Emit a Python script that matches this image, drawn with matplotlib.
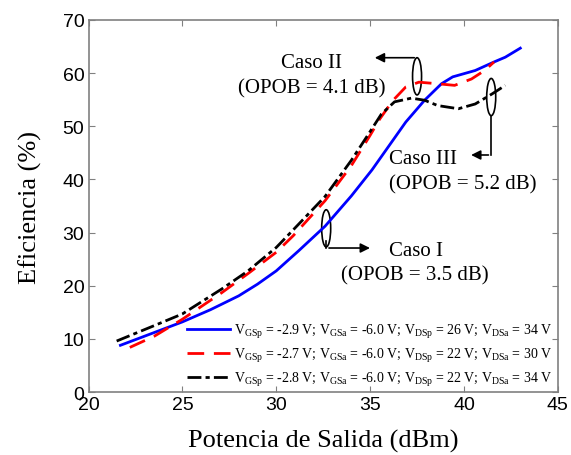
import matplotlib
matplotlib.use("Agg")
import matplotlib.pyplot as plt
from matplotlib.patches import Ellipse

plt.rcParams['font.family'] = ['Liberation Serif', 'DejaVu Serif']
plt.rcParams['mathtext.fontset'] = 'custom'
plt.rcParams['mathtext.rm'] = 'Liberation Serif'

# Caso I (blue)
x_blue = [21.7, 23.5, 25.0, 26.5, 28.0, 29.0, 30.0, 30.6, 31.2, 32.6, 34.0, 35.1,
          35.9, 36.9, 37.9, 38.8, 39.4, 40.6, 41.6, 42.2, 43.0]
y_blue = [8.8, 11.2, 13.2, 15.5, 18.1, 20.3, 22.8, 24.7, 26.6, 31.2, 36.9, 41.8,
          45.8, 50.8, 54.9, 58.0, 59.3, 60.5, 62.1, 63.0, 64.7]

# Caso II (red dashed)
x_red = [22.2, 23.5, 25.0, 27.1, 28.5, 30.0, 30.9, 32.6, 34.0, 35.0, 35.5, 36.2,
         36.9, 37.6, 38.6, 39.5, 40.4, 41.1, 41.6]
y_red = [8.4, 10.5, 13.7, 18.7, 22.3, 26.3, 29.4, 36.0, 42.6, 48.3, 51.3, 54.8,
         57.4, 58.3, 58.0, 57.7, 58.9, 60.5, 62.1]

# Caso III (black dash-dot)
x_black = [21.5, 23.5, 25.0, 27.1, 28.5, 30.0, 30.9, 32.6, 34.0, 35.0, 35.6, 36.3,
           37.2, 37.9, 38.6, 39.7, 40.6, 41.5, 42.2]
y_black = [9.6, 12.5, 14.7, 19.4, 22.8, 27.2, 30.5, 36.8, 43.6, 49.0, 52.3, 54.6,
           55.3, 54.9, 53.9, 53.3, 54.2, 56.1, 57.7]

labels = [
    r'$\mathrm{V_{GSp}}$ = -2.9 V; $\mathrm{V_{GSa}}$ = -6.0 V; $\mathrm{V_{DSp}}$ = 26 V; $\mathrm{V_{DSa}}$ = 34 V',
    r'$\mathrm{V_{GSp}}$ = -2.7 V; $\mathrm{V_{GSa}}$ = -6.0 V; $\mathrm{V_{DSp}}$ = 22 V; $\mathrm{V_{DSa}}$ = 30 V',
    r'$\mathrm{V_{GSp}}$ = -2.8 V; $\mathrm{V_{GSa}}$ = -6.0 V; $\mathrm{V_{DSp}}$ = 22 V; $\mathrm{V_{DSa}}$ = 34 V',
]

fig = plt.figure(figsize=(5.71, 4.56), dpi=100)
ax = fig.add_axes([0.155, 0.138, 0.822, 0.816])

ax.plot(x_blue, y_blue, color='#0000ff', lw=2.0, label=labels[0])
ax.plot(x_red, y_red, color='#ff0000', lw=2.0, dashes=(6, 3.5), label=labels[1])
ax.plot(x_black, y_black, color='black', lw=2.0, dashes=(5, 1.5, 1.5, 1.5), label=labels[2])

ax.set_xlim(20, 45)
ax.set_ylim(0, 70)
ax.set_xticks([20, 25, 30, 35, 40, 45])
ax.set_yticks([0, 10, 20, 30, 40, 50, 60, 70])
for lab in ax.get_xticklabels() + ax.get_yticklabels():
    lab.set_family(['Liberation Sans'])
    lab.set_fontsize(14)
ax.tick_params(direction='in', top=True, right=True, length=4, color='#808080', pad=3)
for s in ax.spines.values():
    s.set_color('#808080')
    s.set_linewidth(1.2)

ax.set_xlabel('Potencia de Salida (dBm)', fontsize=19, labelpad=11)
ax.set_ylabel('Eficiencia (%)', fontsize=19, labelpad=15)

# ellipses + arrows
ell_kw = dict(fill=False, edgecolor='black', lw=1.2)
ax.add_patch(Ellipse((32.66, 30.8), 0.48, 7.0, **ell_kw))
ax.add_patch(Ellipse((37.5, 59.4), 0.48, 7.0, **ell_kw))
ax.add_patch(Ellipse((41.45, 55.5), 0.48, 7.0, **ell_kw))

arr = dict(arrowstyle='-|>', color='black', lw=1.2, mutation_scale=14)
ax.plot([32.66, 32.66], [28.5, 27.1], color='black', lw=1.2)
ax.annotate('', xy=(35.14, 27.1), xytext=(32.66, 27.1), arrowprops=arr)
ax.annotate('', xy=(35.1, 62.9), xytext=(37.5, 62.9), arrowprops=arr)
ax.plot([41.45, 41.45], [52.0, 44.6], color='black', lw=1.2)
ax.annotate('', xy=(40.23, 44.6), xytext=(41.45, 44.6), arrowprops=arr)

fs = 15
ax.text(35.99, 26.55, 'Caso I', fontsize=fs, ha='left', va='center')
ax.text(33.43, 22.0, '(OPOB = 3.5 dB)', fontsize=fs, ha='left', va='center')
ax.text(31.87, 62.05, 'Caso II', fontsize=fs, ha='center', va='center')
ax.text(31.87, 57.15, '(OPOB = 4.1 dB)', fontsize=fs, ha='center', va='center')
ax.text(35.99, 43.9, 'Caso III', fontsize=fs, ha='left', va='center')
ax.text(35.99, 39.1, '(OPOB = 5.2 dB)', fontsize=fs, ha='left', va='center')

ax.legend(loc='lower right', frameon=False, fontsize=10, handlelength=3.1,
          handletextpad=0.3, labelspacing=0.45, borderaxespad=0.0,
          bbox_to_anchor=(1.0, -0.005))

fig.savefig('out.png', dpi=100)
